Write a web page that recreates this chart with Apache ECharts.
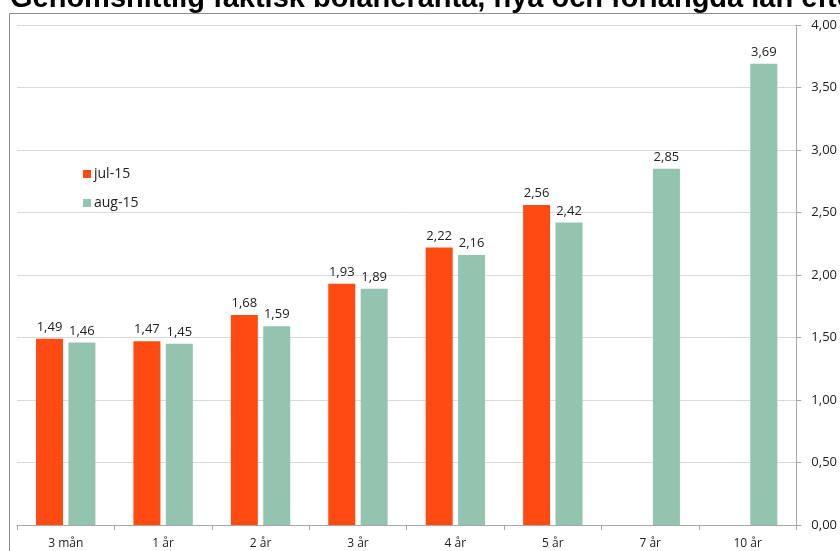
<!DOCTYPE html>
<html>
<head>
<meta charset="utf-8">
<script src="https://cdn.jsdelivr.net/npm/echarts@6/dist/echarts.min.js"></script>
<style>html,body{margin:0;padding:0;background:#fff;}#c{width:840px;height:551px;}</style>
</head>
<body>
<div id="c"></div>
<script>
var categories = ['3 mån', '1 år', '2 år', '3 år', '4 år', '5 år', '7 år', '10 år'];
var jul15 = [1.49, 1.47, 1.68, 1.93, 2.22, 2.56, null, null];
var aug15 = [1.46, 1.45, 1.59, 1.89, 2.16, 2.42, 2.85, 3.69];
var yTicks = { min: 0, max: 4, interval: 0.5 };
var titleText = 'Genomsnittlig faktisk bolåneränta, nya och förlängda lån efter bindningstid';

var fmt = function (v) { return v.toFixed(2).replace('.', ','); };
var font = "'Open Sans', 'Noto Sans', sans-serif";

var chart = echarts.init(document.getElementById('c'), null, { renderer: 'canvas' });
chart.setOption({
  animation: false,
  backgroundColor: '#fff',
  graphic: [
    { type: 'rect', shape: { x: 9.5, y: 13.5, width: 900, height: 600 }, style: { fill: 'none', stroke: '#8c8c8c', lineWidth: 1 }, z: -1 },
    { type: 'text', x: 10, y: -1.5, style: { text: titleText, font: "bold 29px 'Liberation Sans', Arial, sans-serif", fill: '#000', textVerticalAlign: 'middle' } }
  ],
  legend: {
    orient: 'vertical', left: 78, top: 162, itemWidth: 8, itemHeight: 8, itemGap: 15, icon: 'rect',
    textStyle: { fontFamily: font, fontSize: 14, color: '#222', padding: [0, 0, 0, -2] },
    data: ['jul-15', 'aug-15']
  },
  grid: { left: 17, right: 43, top: 25, bottom: 26, containLabel: false },
  xAxis: {
    type: 'category', data: categories,
    axisLine: { lineStyle: { color: '#a6a6a6' } },
    axisTick: { show: true, length: 5, lineStyle: { color: '#a6a6a6' } },
    axisLabel: { fontFamily: font, fontSize: 12, color: '#222', margin: 13 }
  },
  yAxis: {
    type: 'value', position: 'right', min: yTicks.min, max: yTicks.max, interval: yTicks.interval,
    axisLine: { show: true, lineStyle: { color: '#a6a6a6' } },
    axisTick: { show: true, length: 5, lineStyle: { color: '#a6a6a6' } },
    splitLine: { lineStyle: { color: '#d9d9d9' } },
    axisLabel: { fontFamily: font, fontSize: 13, color: '#222', margin: 15, formatter: fmt }
  },
  series: [
    { name: 'jul-15', type: 'bar', data: jul15, barWidth: 27, barGap: '20%', itemStyle: { color: '#FF4A12' },
      label: { show: true, position: 'top', distance: 5, fontFamily: font, fontSize: 13, color: '#222', formatter: function (p) { return fmt(p.value); } } },
    { name: 'aug-15', type: 'bar', data: aug15, barWidth: 27, itemStyle: { color: '#93C4AF' },
      label: { show: true, position: 'top', distance: 5, fontFamily: font, fontSize: 13, color: '#222', formatter: function (p) { return fmt(p.value); } } }
  ]
});
</script>
</body>
</html>
